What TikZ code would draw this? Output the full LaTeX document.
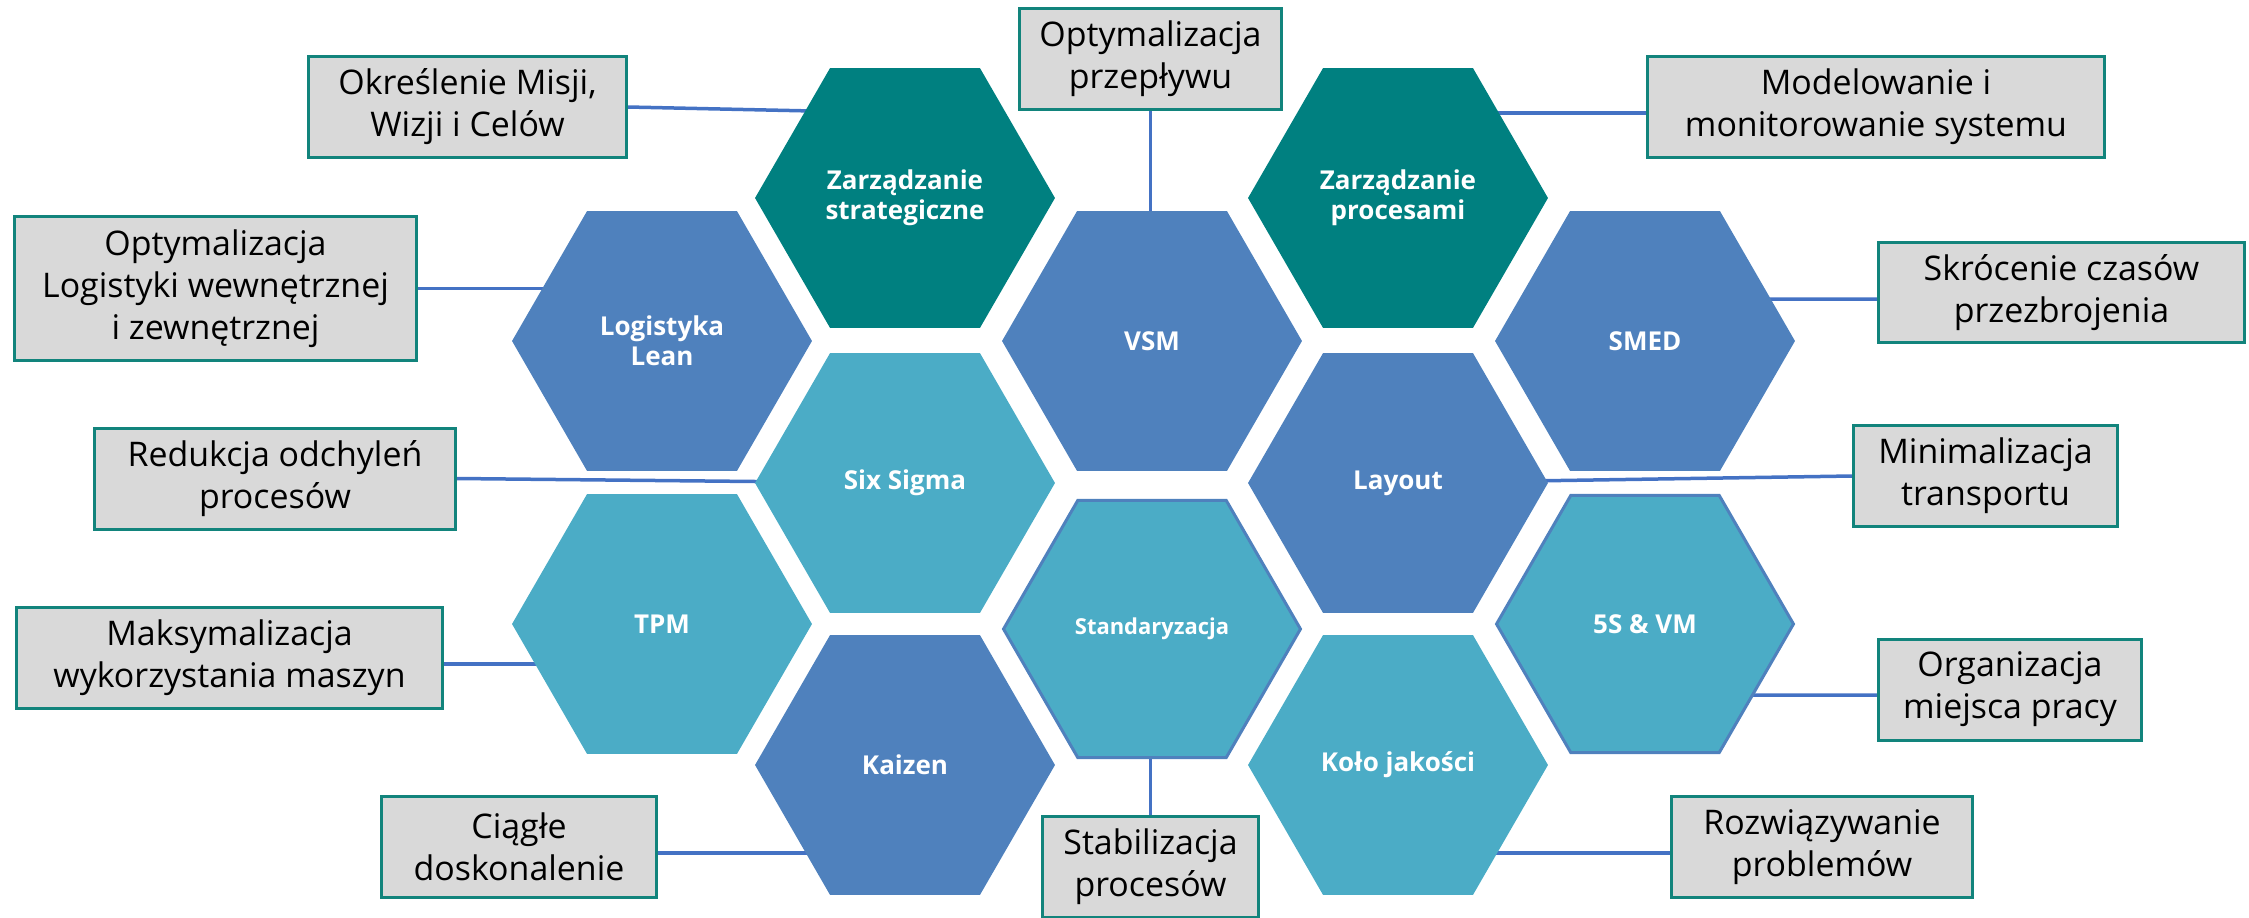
\documentclass[tikz,border=0pt]{standalone}
\usepackage{fontspec}
\setmainfont{Open Sans}
\usepackage{tikz}
\usetikzlibrary{calc, shapes.geometric, backgrounds}
\definecolor{hexteal}{RGB}{0,128,128}
\definecolor{hexblue}{RGB}{79,129,189}
\definecolor{hexlight}{RGB}{75,172,198}
\definecolor{boxfill}{RGB}{217,217,217}
\definecolor{boxline}{RGB}{18,132,124}
\definecolor{linkblue}{RGB}{68,114,196}

\begin{document}
\begin{tikzpicture}[x=0.02cm, y=-0.02cm,
  hex/.style={regular polygon, regular polygon sides=6, minimum size=6cm, inner sep=0pt, text=white, align=center, font=\fontsize{14.8}{17}\selectfont\bfseries},
  hexline/.style={hex, draw=hexblue, line width=0.06cm, minimum size=5.94cm},
  goal/.style={draw=boxline, line width=0.06cm, fill=boxfill, align=center, minimum height=2.02cm, inner sep=0pt, font=\fontsize{19.3}{23.9}\selectfont},
  link/.style={draw=linkblue, line width=0.07cm}]
\useasboundingbox (0,0) rectangle (2249,917);

\node[hex, fill=hexteal] (strat) at (905,198) {Zarządzanie\\strategiczne};
\node[hex, fill=hexteal] (proc) at (1398,198) {Zarządzanie\\procesami};
\node[hex, fill=hexblue] (lean) at (662,341) {Logistyka\\Lean};
\node[hex, fill=hexblue] (vsm) at (1152,341) {VSM};
\node[hex, fill=hexblue] (smed) at (1645,341) {SMED};
\node[hex, fill=hexlight] (sigma) at (905,483) {Six Sigma};
\node[hex, fill=hexblue] (layout) at (1398,483) {Layout};
\node[hex, fill=hexlight] (tpm) at (662,624) {TPM};
\node[hexline, fill=hexlight, font=\fontsize{12.5}{15}\selectfont\bfseries] (std) at (1152,629) {Standaryzacja};
\node[hexline, fill=hexlight] (fives) at (1645,624) {5S \& VM};
\node[hex, fill=hexblue] (kaizen) at (905,765) {Kaizen};
\node[hex, fill=hexlight] (kolo) at (1398,765) {Koło jakości};

\node[goal, minimum width=6.36cm] (misja) at (467.5,107) {Określenie Misji,\\Wizji i Celów};
\node[goal, minimum width=8.04cm, minimum height=2.88cm] (logist) at (215.5,288.5) {Optymalizacja\\Logistyki wewnętrznej\\i zewnętrznej};
\node[goal, minimum width=5.24cm] (przeplyw) at (1150.5,59) {Optymalizacja\\przepływu};
\node[goal, minimum width=9.14cm] (model) at (1876,107) {Modelowanie i\\monitorowanie systemu};
\node[goal, minimum width=7.32cm] (skrocenie) at (2061.5,292.5) {Skrócenie czasów\\przezbrojenia};
\node[goal, minimum width=5.28cm] (minim) at (1985.5,476) {Minimalizacja\\transportu};
\node[goal, minimum width=7.22cm] (redukcja) at (275,478.5) {Redukcja odchyleń\\procesów};
\node[goal, minimum width=8.52cm] (maks) at (229.5,658) {Maksymalizacja\\wykorzystania maszyn};
\node[goal, minimum width=5.26cm] (organ) at (2010,689.5) {Organizacja\\miejsca pracy};
\node[goal, minimum width=5.5cm] (ciagle) at (519,847) {Ciągłe\\doskonalenie};
\node[goal, minimum width=6.02cm] (rozw) at (1822,847) {Rozwiązywanie\\problemów};
\node[goal, minimum width=4.32cm] (stabil) at (1150.5,867) {Stabilizacja\\procesów};

\begin{scope}[on background layer]
\draw[link] (misja.east) -- ($(strat.center)+(0,-85)$);
\draw[link] (logist.east) -- (logist.east -| lean.center);
\draw[link] (przeplyw.south) -- (przeplyw.south |- vsm.center);
\draw[link] ($(model.west)+(0,6)$) -- ($(proc.center)+(0,-85)$);
\draw[link] ($(skrocenie.west)+(0,6.5)$) -- ($(smed.center)+(0,-42)$);
\draw[link] (minim.west) -- (layout.center);
\draw[link] (redukcja.east) -- (sigma.center);
\draw[link] ($(maks.east)+(0,6)$) -- ($(tpm.center)+(0,40)$);
\draw[link] ($(organ.west)+(0,5.5)$) -- ($(fives.center)+(0,71)$);
\draw[link] ($(ciagle.east)+(0,6)$) -- ($(kaizen.center)+(0,88)$);
\draw[link] ($(rozw.west)+(0,6)$) -- ($(kolo.center)+(0,88)$);
\draw[link] (stabil.north) -- (stabil.north |- std.center);
\end{scope}
\end{tikzpicture}
\end{document}
